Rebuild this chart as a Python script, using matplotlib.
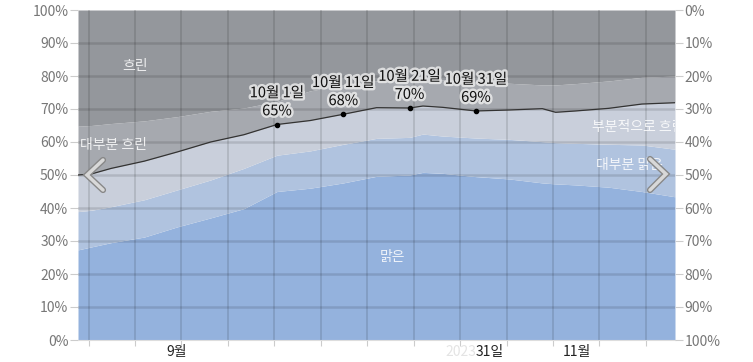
import numpy as np
import matplotlib
matplotlib.use('Agg')
import matplotlib.pyplot as plt
import matplotlib.patheffects as pe

plt.rcParams['font.family'] = ['Noto Sans CJK KR', 'DejaVu Sans']

# Days since Sep 1 and cumulative cloud-cover boundaries (%)
days = [0, 2, 5, 10, 15, 20, 25, 30, 35, 40, 45, 50, 52, 55, 60, 65, 70, 72, 75, 80, 85, 90]
clear_top = [27.3, 28.2, 29.5, 31.2, 34.3, 37.0, 39.8, 45.0, 46.0, 47.6, 49.6, 50.0, 50.8, 50.5,
             49.5, 48.8, 47.6, 47.3, 47.0, 46.3, 45.0, 43.4]
mostly_clear_top = [38.9, 39.3, 40.4, 42.5, 45.5, 48.5, 52.0, 56.0, 57.3, 59.3, 61.1, 61.4, 62.4,
                    61.8, 61.2, 60.8, 60.1, 59.8, 59.6, 59.3, 59.1, 57.8]
partly_cloudy_top = [50.0, 50.3, 52.0, 54.2, 57.0, 60.0, 62.2, 65.3, 66.5, 68.4, 70.4, 70.3, 70.9,
                     70.5, 69.4, 69.7, 70.1, 69.0, 69.4, 70.2, 71.5, 71.9]
mostly_cloudy_top = [64.8, 65.0, 65.6, 66.4, 67.7, 69.3, 70.3, 72.3, 75.5, 77.3, 78.5, 79.0, 79.0,
                     78.8, 78.3, 77.8, 77.3, 77.3, 77.7, 78.5, 79.6, 80.0]

# Highlighted points on the boundary line
point_days = [30, 40, 50, 60]
point_vals = [65.3, 68.4, 70.3, 69.4]
point_dates = ['10월 1일', '10월 11일', '10월 21일', '10월 31일']
point_labels = ['65%', '68%', '70%', '69%']

# Band names and label positions (day, %)
band_names = ['흐린', '대부분 흐린', '부분적으로 흐린', '대부분 맑은', '맑은']
band_label_pos = [(8.6, 83), (5.4, 59), (77.5, 64.5), (83.2, 53), (47.4, 25)]
band_label_ha = ['center', 'center', 'left', 'center', 'center']

month_ticks = [14.9, 75.2]
month_labels = ['9월', '11월']
grid_days = [1.6 + 7 * k for k in range(13)]

colors = {
    'overcast': '#94979c',
    'mostly_cloudy': '#a6a9af',
    'partly': '#c9cfdb',
    'mostly_clear': '#b0c3df',
    'clear': '#94b2dd',
}

fig = plt.figure(figsize=(7.53, 3.62), dpi=100)
ax = fig.add_axes([78 / 753, 22 / 362, 597 / 753, 330 / 362])

x = np.array(days)
ax.fill_between(x, 0, clear_top, color=colors['clear'], lw=0)
ax.fill_between(x, clear_top, mostly_clear_top, color=colors['mostly_clear'], lw=0)
ax.fill_between(x, mostly_clear_top, partly_cloudy_top, color=colors['partly'], lw=0)
ax.fill_between(x, partly_cloudy_top, mostly_cloudy_top, color=colors['mostly_cloudy'], lw=0)
ax.fill_between(x, mostly_cloudy_top, 100, color=colors['overcast'], lw=0)
ax.plot(x, partly_cloudy_top, color='#333333', lw=0.9, zorder=3)

ax.set_xlim(0, 90)
ax.set_ylim(0, 100)

# grid
for d in grid_days:
    ax.axvline(d, color='black', alpha=0.13, lw=1.2, zorder=2)
for v in range(10, 100, 10):
    ax.axhline(v, color='black', alpha=0.12, lw=1.8, zorder=2)

# axes/ticks
for s in ['top', 'left', 'right']:
    ax.spines[s].set_visible(False)
ax.spines['bottom'].set_color('#dddddd')
ax.set_xticks(grid_days)
ax.set_xticklabels([])
ax.tick_params(axis='x', which='major', length=4, color='#cccccc')
ax.set_xticks(month_ticks, minor=True)
ax.set_xticklabels(month_labels, minor=True)
ax.tick_params(axis='x', which='minor', length=0, labelsize=10, pad=3.5, labelcolor='#222222')

yt = list(range(0, 101, 10))
ax.set_yticks(yt)
ax.set_yticklabels([f'{v}%' for v in yt])
ax.tick_params(axis='y', length=6, color='#cccccc', labelsize=10, labelcolor='#777777', pad=1)

ax2 = ax.twinx()
ax2.set_ylim(0, 100)
ax2.set_yticks(yt)
ax2.set_yticklabels([f'{100 - v}%' for v in yt])
ax2.tick_params(axis='y', length=6, color='#cccccc', labelsize=10, labelcolor='#777777', pad=1)
for s in ['top', 'left', 'right', 'bottom']:
    ax2.spines[s].set_visible(False)

# odd "31일" tick label with faded year before it
ax.annotate('2023', (60.05, 0), xycoords=('data', 'axes fraction'), xytext=(0, -3.5),
            textcoords='offset points', ha='right', va='top', fontsize=10,
            color='#222222', alpha=0.12, annotation_clip=False)
ax.annotate('31일', (60.0, 0), xycoords=('data', 'axes fraction'), xytext=(0, -3.5),
            textcoords='offset points', ha='left', va='top', fontsize=10,
            color='#222222', annotation_clip=False)

# band labels
for name, (bx, by), ha in zip(band_names, band_label_pos, band_label_ha):
    ax.text(bx, by, name, ha=ha, va='center', fontsize=10, color='white', alpha=0.85,
            clip_on=True, zorder=4)

# highlighted points
halo = [pe.withStroke(linewidth=3.5, foreground='#eeeeee', alpha=0.8)]
for d, v, dl, pl in zip(point_days, point_vals, point_dates, point_labels):
    ax.plot(d, v, 'o', color='black', ms=3, zorder=5)
    ax.annotate(pl, (d, v), xytext=(0, 9.5), textcoords='offset points', ha='center',
                va='center', fontsize=10.5, color='#111111', path_effects=halo, zorder=6)
    ax.annotate(dl, (d, v), xytext=(0, 22.5), textcoords='offset points', ha='center',
                va='center', fontsize=10.5, color='#111111', path_effects=halo, zorder=6)

# navigation chevrons
chev_l = ([103, 87, 103], [160, 175, 190])
chev_r = ([650, 666, 650], [159, 174, 190])
for cx, cy in (chev_l, chev_r):
    fx = [v / 753 for v in cx]
    fy = [1 - v / 362 for v in cy]
    fig.add_artist(plt.Line2D(fx, fy, color='#888888', lw=4.5, solid_capstyle='round',
                              solid_joinstyle='miter', transform=fig.transFigure, zorder=10))
    fig.add_artist(plt.Line2D(fx, fy, color='#d8d8d8', lw=2.5, solid_capstyle='round',
                              solid_joinstyle='miter', transform=fig.transFigure, zorder=11))

fig.savefig('out.png', dpi=100)
